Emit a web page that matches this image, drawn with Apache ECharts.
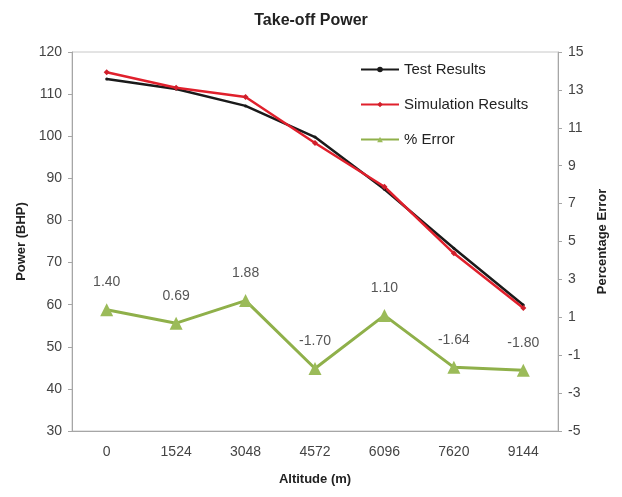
<!DOCTYPE html>
<html>
<head>
<meta charset="utf-8">
<script src="https://cdn.jsdelivr.net/npm/echarts@6/dist/echarts.min.js"></script>
<style>
  html, body { margin: 0; padding: 0; background: #fff; }
  #chart { width: 622px; height: 497px; }
</style>
</head>
<body>
<div id="chart"></div>
<script>
const altitudes = ['0', '1524', '3048', '4572', '6096', '7620', '9144']
const testResults = [113.6, 111.2, 107.2, 99.8, 87.4, 73.4, 59.9]
const simResults = [115.2, 111.5, 109.3, 98.4, 88.0, 72.2, 59.2]
const pctError = [1.40, 0.69, 1.88, -1.70, 1.10, -1.64, -1.80]

const myChart = echarts.init(document.getElementById('chart'))
const labelFont = 'Liberation Sans, Arial, sans-serif'

myChart.setOption({
  animation: false,
  textStyle: { fontFamily: labelFont },
  title: {
    text: 'Take-off Power',
    left: 'center',
    top: 8,
    textStyle: { fontSize: 16, fontWeight: 'bold', color: '#222' }
  },
  legend: {
    orient: 'vertical',
    left: 355,
    top: 57,
    itemGap: 20,
    itemWidth: 38,
    itemHeight: 7,
    textStyle: { fontSize: 15, color: '#222' },
    data: ['Test Results', 'Simulation Results', '% Error']
  },
  grid: {
    left: 72,
    right: 64,
    top: 52,
    bottom: 66,
    show: true,
    borderColor: '#c8c8c8',
    borderWidth: 1
  },
  xAxis: {
    type: 'category',
    data: altitudes,
    name: 'Altitude (m)',
    nameLocation: 'middle',
    nameGap: 42,
    nameTextStyle: { fontSize: 13, fontWeight: 'bold', color: '#222' },
    axisLine: { onZero: false, lineStyle: { color: '#a6a6a6' } },
    axisTick: { length: 4, lineStyle: { color: '#a6a6a6' } },
    axisLabel: { fontSize: 14, color: '#444', margin: 14 },
    splitLine: { show: false }
  },
  yAxis: [
    {
      type: 'value',
      min: 30,
      max: 120,
      interval: 10,
      name: 'Power (BHP)',
      nameLocation: 'middle',
      nameGap: 43,
      nameTextStyle: { fontSize: 13, fontWeight: 'bold', color: '#222' },
      axisLine: { show: true, lineStyle: { color: '#a6a6a6' } },
      axisTick: { show: true, length: 4, lineStyle: { color: '#a6a6a6' } },
      axisLabel: { fontSize: 14, color: '#444', margin: 10 },
      splitLine: { show: false }
    },
    {
      type: 'value',
      min: -5,
      max: 15,
      interval: 2,
      name: 'Percentage Error',
      nameLocation: 'middle',
      nameGap: 38,
      nameTextStyle: { fontSize: 13, fontWeight: 'bold', color: '#222' },
      axisLine: { show: true, lineStyle: { color: '#a6a6a6' } },
      axisTick: { show: true, length: 4, lineStyle: { color: '#a6a6a6' } },
      axisLabel: { fontSize: 14, color: '#444', margin: 10 },
      splitLine: { show: false }
    }
  ],
  series: [
    {
      name: 'Test Results',
      type: 'line',
      data: testResults,
      symbol: 'circle',
      symbolSize: 3,
      lineStyle: { color: '#1a1a1a', width: 2.5 },
      itemStyle: { color: '#1a1a1a' }
    },
    {
      name: 'Simulation Results',
      type: 'line',
      data: simResults,
      symbol: 'diamond',
      symbolSize: 6,
      lineStyle: { color: '#e0202c', width: 2.5 },
      itemStyle: { color: '#d01f2b' }
    },
    {
      name: '% Error',
      type: 'line',
      yAxisIndex: 1,
      data: pctError,
      symbol: 'triangle',
      symbolSize: 13,
      lineStyle: { color: '#8fb04a', width: 3 },
      itemStyle: { color: '#9bbb59' },
      label: {
        show: true,
        position: 'top',
        distance: 14,
        fontSize: 14,
        color: '#555',
        formatter: p => p.value.toFixed(2)
      }
    }
  ]
})
</script>
</body>
</html>
